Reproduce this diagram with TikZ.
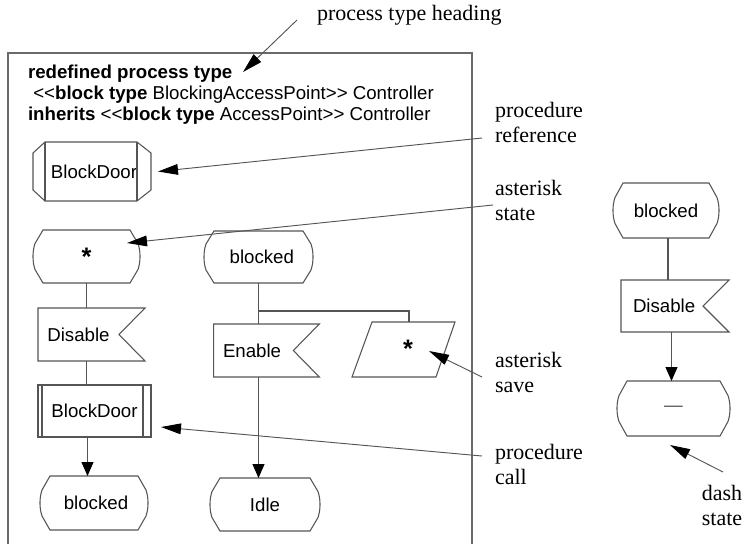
\documentclass[tikz,border=0pt]{standalone}
\usepackage{fontspec}
\setmainfont{Liberation Serif}
\setsansfont{Liberation Sans}
\usetikzlibrary{arrows.meta,calc}
\definecolor{lc}{HTML}{555555}
\definecolor{fc}{HTML}{6A6A6A}
\tikzset{
  sym/.style={inner sep=0pt, outer sep=0pt, font=\sffamily\fontsize{14}{15}\selectfont, text=black},
  sigbox/.style={sym, align=left, inner xsep=7pt, minimum height=39.75pt},
  ln/.style={draw=lc, line width=0.8pt},
  flowarr/.style={ln, -{Triangle[length=10.5pt,width=9pt,color=black]}},
  ann/.style={draw=lc, line width=0.7pt, -{Triangle[length=15pt,width=8pt,color=black]}},
  lbl/.style={inner sep=0pt, outer sep=0pt, font=\fontsize{16.5}{18.75}\selectfont, align=left},
}
\newcommand\bigstar{{\fontsize{19}{19}\selectfont\textbf{*}}}
\newcommand\stateoutline[1]{%
  \draw[ln] ($(#1.north west)+(10,0)$) -- ($(#1.north east)+(-10,0)$)
    -- ($(#1.east)+(-2,-13)$) .. controls ($(#1.east)+(0.7,-5)$) and ($(#1.east)+(0.7,5)$) .. ($(#1.east)+(-2,13)$)
    -- ($(#1.south east)+(-10,0)$) -- ($(#1.south west)+(10,0)$)
    -- ($(#1.west)+(2,13)$) .. controls ($(#1.west)+(-0.7,5)$) and ($(#1.west)+(-0.7,-5)$) .. ($(#1.west)+(2,-13)$)
    -- cycle;}
\newcommand\inputoutline[1]{%
  \draw[ln] (#1.north west) -- (#1.north east) -- ($(#1.east)+(-26,0)$)
    -- (#1.south east) -- (#1.south west) -- cycle;}
\begin{document}
\begin{tikzpicture}[x=0.75pt,y=-0.75pt]
\path[use as bounding box] (0,0) rectangle (746,544);

% frame
\draw[draw=fc, line width=0.8pt] (8,544) -- (8,53) -- (472,53) -- (472,544);

% heading
\node[sym, align=left, anchor=west, font=\sffamily\fontsize{14}{15.75}\selectfont] (head) at (28,95)
  {\textbf{redefined process type}\\
   \hspace*{4pt}<{}<\textbf{block type} BlockingAccessPoint>{}> Controller\\
   \textbf{inherits} <{}<\textbf{block type} AccessPoint>{}> Controller};
\coordinate (hdtip) at (243,72);

% column 1
\node[sym, minimum width=88.5pt, minimum height=44.25pt] (pr) at (92,171.5) {\hspace*{3pt}BlockDoor};
\draw[ln] ($(pr.north west)+(12,0)$) -- ($(pr.north east)+(-14,0)$) -- ($(pr.east)+(0,-18.5)$)
  -- ($(pr.east)+(0,18.5)$) -- ($(pr.south east)+(-14,0)$) -- ($(pr.south west)+(12,0)$)
  -- ($(pr.west)+(0,18.5)$) -- ($(pr.west)+(0,-18.5)$) -- cycle;
\draw[ln] ($(pr.north west)+(12,0)$) -- ($(pr.south west)+(12,0)$);
\draw[ln] ($(pr.north east)+(-14,0)$) -- ($(pr.south east)+(-14,0)$);

\node[sym, minimum width=80.25pt, minimum height=39.75pt] (st1) at (86.5,256.5) {\raisebox{-2pt}{\bigstar}};
\stateoutline{st1}

\node[sigbox, text width=66.25pt] (dis1) at (91.5,334.5) {Disable};
\inputoutline{dis1}

\node[sym, minimum width=84.75pt, minimum height=39pt] (pc) at (94.5,411) {BlockDoor};
\draw[ln] (pc.north west) rectangle (pc.south east);
\draw[ln] ($(pc.north west)+(4,0)$) -- ($(pc.south west)+(4,0)$);
\draw[ln] ($(pc.north east)+(-8,0)$) -- ($(pc.south east)+(-8,0)$);

\node[sym, minimum width=81pt, minimum height=40.5pt] (bl1) at (94,503) {\hspace*{3pt}blocked};
\stateoutline{bl1}

\draw[ln] (st1.south) -- (st1.south |- dis1.north);
\draw[ln] (dis1.south -| st1.south) -- (pc.north -| st1.south);
\draw[flowarr] ($(pc.south -| st1.south)+(1,0)$) -- ($(bl1.north -| st1.south)+(1,0)$);

% column 2
\node[sym, minimum width=81.75pt, minimum height=39pt] (st2) at (258.5,257) {\hspace*{5pt}blocked};
\stateoutline{st2}

\node[sigbox, text width=65.25pt] (en) at (266.5,350.5) {Enable};
\inputoutline{en}

\node[sym, minimum width=77.25pt, minimum height=41.25pt] (sv) at (403.5,349.5) {\hspace*{7pt}\raisebox{1pt}{\bigstar}};
\draw[ln] ($(sv.north west)+(20,0)$) -- (sv.north east) -- ($(sv.south east)+(-19,0)$)
  -- (sv.south west) -- cycle;

\node[sym, minimum width=82.5pt, minimum height=39.75pt] (idle) at (265,504.5) {Idle};
\stateoutline{idle}

\coordinate (brk) at (409,311);
\draw[ln] (st2.south) -- (st2.south |- en.north);
\draw[ln] (st2.south |- brk) -- (brk) -- (brk |- sv.north);
\draw[flowarr] (en.south -| st2.south) -- (idle.north -| st2.south);

% right diagram
\node[sym, minimum width=79.5pt, minimum height=41.25pt] (rs) at (666,210.5) {blocked};
\stateoutline{rs}

\node[sigbox, text width=67pt, minimum height=39pt] (rd) at (675,306) {\hspace*{2pt}Disable};
\inputoutline{rd}

\node[sym, minimum width=84.75pt, minimum height=41.25pt] (ds) at (673.5,408.5) {\raisebox{-2pt}{\textcolor{lc}{—}}};
\stateoutline{ds}

\draw[ln] ($(rs.south)+(2,0)$) -- ($(rs.south |- rd.north)+(2,0)$);
\draw[flowarr] ($(rd.south -| ds.north)+(-2,0)$) -- ($(ds.north)+(-2,0)$);

% annotations
\node[lbl, anchor=base west] (ptl) at (317,20) {process type heading};
\node[lbl, anchor=west] (lpr) at (495,122.5) {procedure\\reference};
\node[lbl, anchor=west] (las) at (495,200) {asterisk\\state};
\node[lbl, anchor=west] (lsv) at (495,372.5) {asterisk\\save};
\node[lbl, anchor=west] (lpc) at (495,464.5) {procedure\\call};
\node[lbl, align=center] (lds) at (722,505) {dash\\state};

\draw[ann] ($(ptl.base west)+(-20,0)$) -- (hdtip);
\draw[ann] ($(lpr.west)+(-13,15.5)$) -- ($(pr.east)+(7,0)$);
\draw[ann] ($(las.west)+(-2,5)$) -- ($(st1.east)+(-13,-13.5)$);
\draw[ann] ($(lsv.west)+(-13,4.5)$) -- ($(sv.center)+(25.5,1.5)$);
\draw[ann] ($(lpc.west)+(-13,-8.5)$) -- ($(pc.east)+(10,16)$);
\draw[ann] ($(lds.center)+(1,-33)$) -- ($(ds.south)+(-3.5,9)$);
\end{tikzpicture}
\end{document}
